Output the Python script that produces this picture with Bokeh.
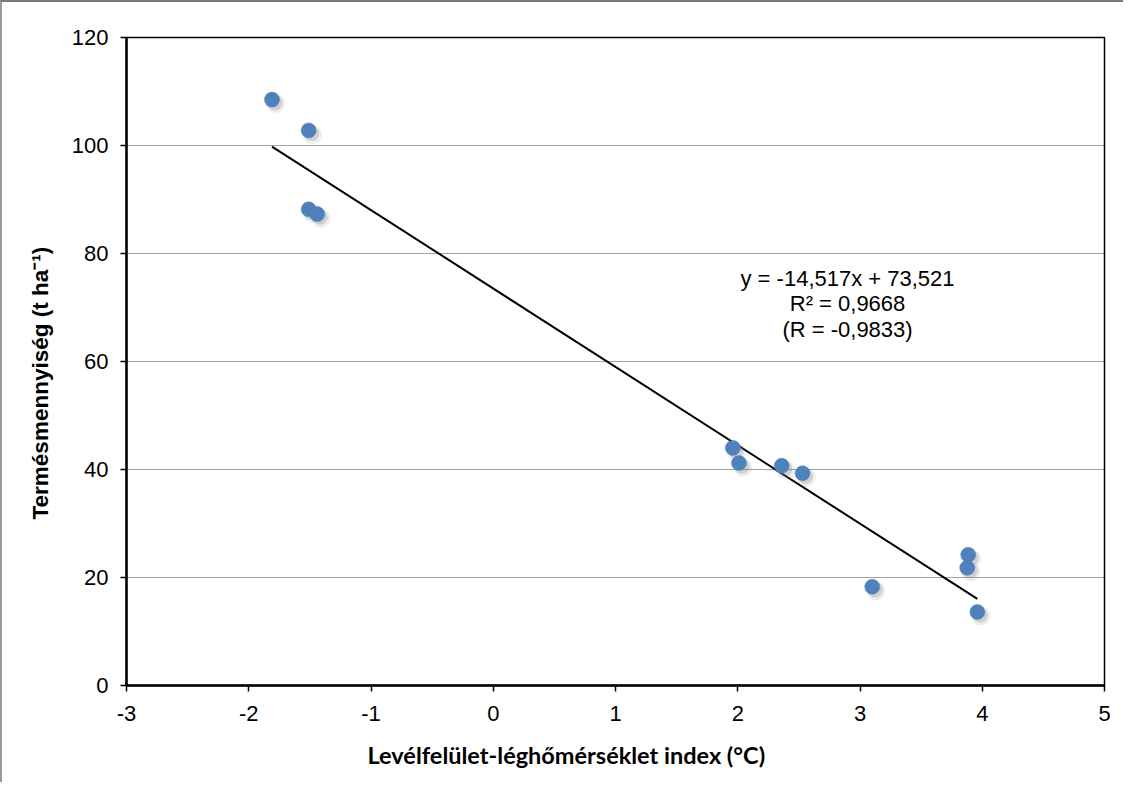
from bokeh.plotting import figure
from bokeh.models import ColumnDataSource, Label, FixedTicker, Title
from bokeh.transform import dodge
from bokeh.embed import file_html
from bokeh.resources import INLINE

# Data
index_x = [-1.81, -1.51, -1.51, -1.44, 1.96, 2.01, 2.36, 2.53, 3.10, 3.885, 3.877, 3.96]
yield_y = [108.5, 102.8, 88.2, 87.3, 44.0, 41.2, 40.7, 39.3, 18.3, 24.2, 21.8, 13.6]
slope = -14.517
intercept = 73.521
eq_lines = ["y = -14,517x + 73,521", "R\u00b2 = 0,9668", "(R = -0,9833)"]
x_ticks = [-3, -2, -1, 0, 1, 2, 3, 4, 5]
y_ticks = [0, 20, 40, 60, 80, 100, 120]
x_title = "Levélfelület-léghőmérséklet index (°C)"
y_title = "Termésmennyiség (t ha\u207b\u00b9)"

FONT = "Liberation Sans"

p = figure(width=1123, height=782, output_backend="svg", toolbar_location=None,
           x_range=(-3, 5), y_range=(0, 120),
           min_border_left=124, min_border_right=21, min_border_top=35, min_border_bottom=99,
           styles={"border-top": "2px solid #7a7a7a", "border-left": "2px solid #9a9a9a"})
p.background_fill_color = "white"
p.border_fill_color = "white"
p.outline_line_color = "black"
p.outline_line_width = 1.5

# grid
p.xgrid.visible = False
p.ygrid.ticker = FixedTicker(ticks=[20, 40, 60, 80, 100])
p.ygrid.grid_line_color = "#444444"
p.ygrid.grid_line_dash = "1 1"
p.ygrid.grid_line_width = 1

for ax, ticks in ((p.xaxis, x_ticks), (p.yaxis, y_ticks)):
    ax.ticker = FixedTicker(ticks=ticks)
    ax.major_label_overrides = {t: str(t) for t in ticks}
    ax.axis_line_color = "black"
    ax.axis_line_width = 2.5
    ax.major_tick_line_color = "black"
    ax.major_tick_line_width = 1.5
    ax.major_tick_out = 6
    ax.major_tick_in = 0
    ax.minor_tick_line_color = None
    ax.major_label_text_font = FONT
    ax.major_label_text_font_size = "22px"
    ax.major_label_text_color = "black"
p.yaxis.major_label_standoff = 12
p.xaxis.major_label_standoff = 14

# regression line from the fitted coefficients
x0, x1 = min(index_x), max(index_x)
p.line([x0, x1], [slope * x0 + intercept, slope * x1 + intercept],
       line_color="black", line_width=2)

src = ColumnDataSource(dict(x=index_x, y=yield_y))
# soft shadow
p.scatter(x=dodge("x", 0.03, range=p.x_range), y=dodge("y", -0.75, range=p.y_range),
          source=src, size=19, fill_color="#888888", fill_alpha=0.14, line_color=None)
p.scatter(x=dodge("x", 0.025, range=p.x_range), y=dodge("y", -0.6, range=p.y_range),
          source=src, size=15, fill_color="#777777", fill_alpha=0.25, line_color=None)
p.scatter(x="x", y="y", source=src, size=15, fill_color="#4F81BD", line_color="#4F81BD",
          line_width=0.5)

# equation annotation
for i, txt in enumerate(eq_lines):
    p.add_layout(Label(x=2.898, y=75.4 - i * 4.75, text=txt, text_align="center",
                       text_baseline="middle", text_font=FONT,
                       text_font_size="22px", text_color="black"))

# axis titles
p.add_layout(Title(text=x_title, align="left", offset=241, standoff=30,
                   text_font="Lato", text_font_style="bold",
                   text_font_size="23.5px", text_color="black"), "below")
p.add_layout(Title(text=y_title, align="left", offset=166, standoff=31,
                   text_font=FONT, text_font_style="bold",
                   text_font_size="22.5px", text_color="black"), "left")

open("out.html", "w").write(file_html(p, INLINE))
